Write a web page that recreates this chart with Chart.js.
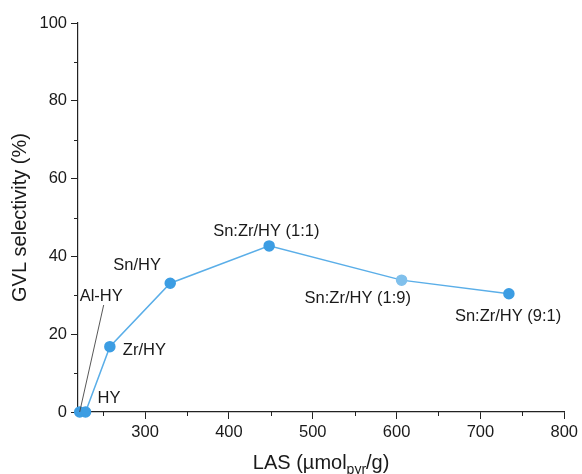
<!DOCTYPE html>
<html>
<head>
<meta charset="utf-8">
<script src="https://cdn.jsdelivr.net/npm/chart.js@4.4.0/dist/chart.umd.min.js"></script>
<style>
html,body{margin:0;padding:0;background:#fff;}
#wrap{width:582px;height:474px;position:relative;}
</style>
</head>
<body>
<div id="wrap"><canvas id="c" width="582" height="474"></canvas></div>
<script>
const catalysts = ["Al-HY", "HY", "Zr/HY", "Sn/HY", "Sn:Zr/HY (1:1)", "Sn:Zr/HY (1:9)", "Sn:Zr/HY (9:1)"];
const lasValues = [222, 229, 258, 330, 448, 606, 734];
const gvlSelectivity = [0, 0, 16.8, 33.1, 42.7, 33.9, 30.4];
const xTickLabels = [300, 400, 500, 600, 700, 800];
const yTickLabels = [0, 20, 40, 60, 80, 100];
const pointColors = ["#3c9de3", "#3c9de3", "#3c9de3", "#3c9de3", "#3c9de3", "#80c0ec", "#3c9de3"];
// label offsets (px) relative to each point: [dx, dy, align]
const labelOffsets = [[0, -116, "left"], [12, -14, "left"], [13, 4, "left"], [-57, -18, "left"], [-56, -14, "left"], [-97, 18, "left"], [-54, 23, "left"]];

const FONT = "'Liberation Sans', Arial, sans-serif";

const annot = {
  id: 'annot',
  afterDatasetsDraw(chart) {
    const ctx = chart.ctx;
    const xs = chart.scales.x, ys = chart.scales.y;
    ctx.save();
    // minor ticks
    ctx.strokeStyle = '#222';
    ctx.lineWidth = 1;
    for (let v = 250; v <= 750; v += 100) {
      const px = Math.round(xs.getPixelForValue(v)) + 0.5;
      ctx.beginPath(); ctx.moveTo(px, ys.bottom); ctx.lineTo(px, ys.bottom + 4); ctx.stroke();
    }
    for (let v = 10; v <= 90; v += 20) {
      const py = Math.round(ys.getPixelForValue(v)) + 0.5;
      ctx.beginPath(); ctx.moveTo(xs.left, py); ctx.lineTo(xs.left - 4, py); ctx.stroke();
    }
    // leader line for Al-HY
    const ax = xs.getPixelForValue(lasValues[0]), ay = ys.getPixelForValue(gvlSelectivity[0]);
    ctx.strokeStyle = '#444';
    ctx.lineWidth = 0.9;
    ctx.beginPath(); ctx.moveTo(ax, ay); ctx.lineTo(ax + 24, ay - 107); ctx.stroke();
    // labels
    ctx.fillStyle = '#1a1a1a';
    ctx.font = "16.5px " + FONT;
    ctx.textBaseline = 'middle';
    catalysts.forEach((name, i) => {
      const px = xs.getPixelForValue(lasValues[i]);
      const py = ys.getPixelForValue(gvlSelectivity[i]);
      const o = labelOffsets[i];
      ctx.textAlign = o[2];
      ctx.fillText(name, px + o[0], py + o[1]);
    });
    // x axis title with subscript
    const cx = (xs.left + xs.right) / 2 + 0;
    const ty = 462;
    ctx.font = "20px " + FONT;
    const p1 = "LAS (µmol", p3 = "/g)";
    ctx.font = "20px " + FONT;
    const w1 = ctx.measureText(p1).width;
    const w3 = ctx.measureText(p3).width;
    ctx.font = "14px " + FONT;
    const w2 = ctx.measureText("pyr").width;
    const total = w1 + w2 + w3;
    let x0 = cx - total / 2;
    ctx.textAlign = 'left';
    ctx.textBaseline = 'alphabetic';
    ctx.font = "20px " + FONT;
    ctx.fillText(p1, x0, ty + 7);
    ctx.font = "14px " + FONT;
    ctx.fillText("pyr", x0 + w1, ty + 12);
    ctx.font = "20px " + FONT;
    ctx.fillText(p3, x0 + w1 + w2, ty + 7);
    ctx.restore();
  }
};

new Chart(document.getElementById('c'), {
  type: 'scatter',
  data: {
    datasets: [{
      data: lasValues.map((x, i) => ({x: x, y: gvlSelectivity[i]})),
      showLine: true,
      borderColor: '#5aaee8',
      borderWidth: 1.5,
      pointBackgroundColor: pointColors,
      pointBorderColor: pointColors,
      pointRadius: 5,
      pointHoverRadius: 5,
      clip: false
    }]
  },
  options: {
    responsive: false,
    animation: false,
    devicePixelRatio: 1,
    layout: { padding: { left: 0, top: 23, right: 16, bottom: 0 } },
    plugins: { legend: { display: false }, tooltip: { enabled: false } },
    scales: {
      x: {
        type: 'linear',
        min: 220, max: 800,
        afterBuildTicks(s) { s.ticks = xTickLabels.map(v => ({value: v})); },
        afterFit(s) { s.height = 62; },
        border: { display: true, color: '#222', width: 1.2 },
        grid: { display: true, drawOnChartArea: false, drawTicks: true, tickLength: 7, tickColor: '#222' },
        ticks: { color: '#1a1a1a', font: { family: FONT, size: 16.5 }, padding: 4, maxRotation: 0 },
        title: { display: false }
      },
      y: {
        type: 'linear',
        min: 0, max: 100,
        afterBuildTicks(s) { s.ticks = yTickLabels.map(v => ({value: v})); },
        afterFit(s) { s.width = 78; },
        border: { display: true, color: '#222', width: 1.2 },
        grid: { display: true, drawOnChartArea: false, drawTicks: true, tickLength: 7, tickColor: '#222' },
        ticks: { color: '#1a1a1a', font: { family: FONT, size: 16.5 }, padding: 4 },
        title: { display: true, text: 'GVL selectivity (%)', color: '#1a1a1a', font: { family: FONT, size: 20 }, padding: { top: 8, bottom: 0 } }
      }
    }
  },
  plugins: [annot]
});
</script>
</body>
</html>
